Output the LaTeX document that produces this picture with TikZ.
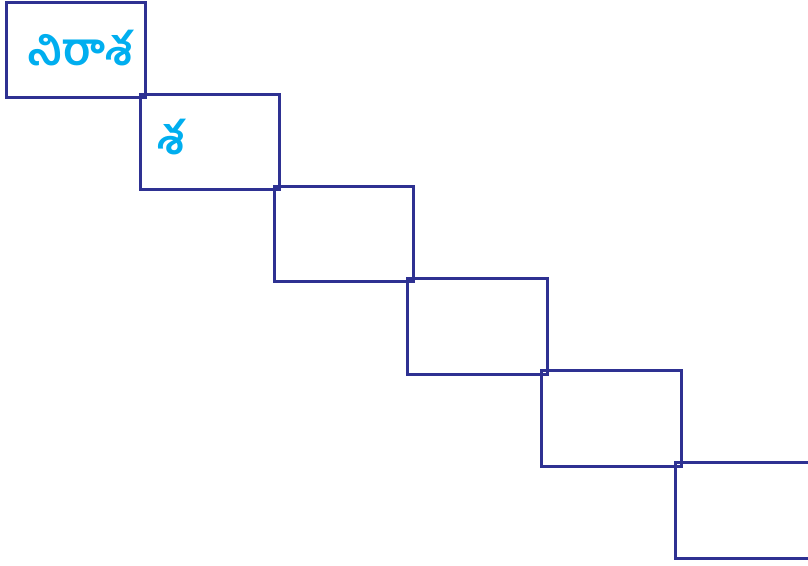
\documentclass[tikz,border=0pt]{standalone}
\usepackage{fontspec}
\newfontfamily\telugufont[Script=Telugu]{Hind Guntur}
\definecolor{boxblue}{HTML}{2E3192}
\definecolor{textcyan}{HTML}{00AEEF}
\begin{document}
\begin{tikzpicture}[x=1pt,y=-1pt,
  stairbox/.style={draw=boxblue,line width=3pt},
  tlabel/.style={text=textcyan,font=\telugufont\bfseries\fontsize{45}{52}\selectfont,inner sep=0pt,anchor=west}]
\useasboundingbox (0,0) rectangle (808,565);
\draw[stairbox] (6,2) rectangle (145,97);
\draw[stairbox] (140,94) rectangle (279,189);
\draw[stairbox] (274,186) rectangle (413,281);
\draw[stairbox] (407,278) rectangle (547,374);
\draw[stairbox] (541,370) rectangle (681,466);
\draw[stairbox] (675,462) rectangle (830,558);
\node[tlabel] (t1) at (27,48) {నిరాశ};
\node[tlabel] (t2) at (157,137) {శ};
\end{tikzpicture}
\end{document}
